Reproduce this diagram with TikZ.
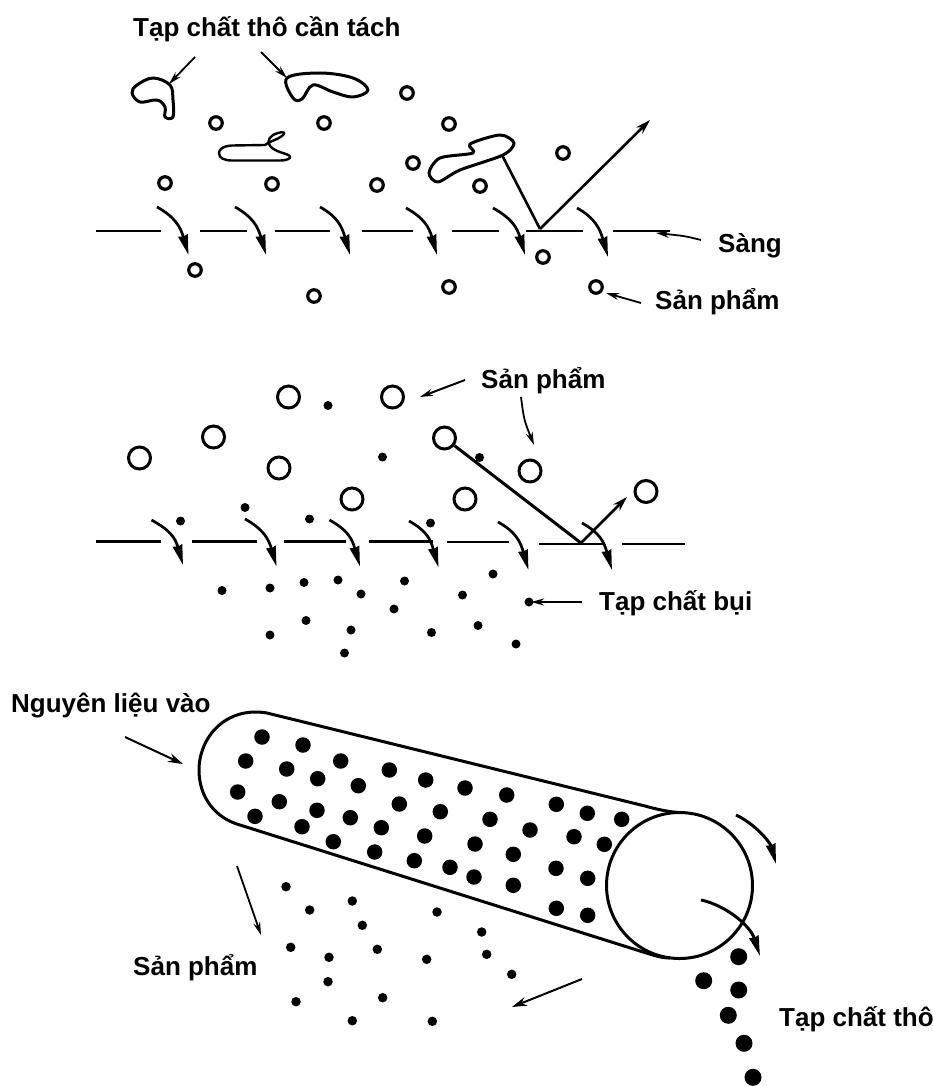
\documentclass[tikz,border=0pt]{standalone}
\usepackage{fontspec}
\setmainfont{Liberation Sans}
\usetikzlibrary{arrows.meta}
\tikzset{
  lbl/.style={anchor=base west,inner sep=0pt,font=\bfseries\fontsize{26}{28}\selectfont},
  ringsmall/.style={circle,draw=black,line width=3.2pt,fill=white,minimum size=12.5pt,inner sep=0pt},
  ringbig/.style={circle,draw=black,line width=3pt,fill=white,minimum size=22pt,inner sep=0pt},
  specksmall/.style={circle,fill=black,minimum size=9pt,inner sep=0pt},
  speckmid/.style={circle,fill=black,minimum size=15.5pt,inner sep=0pt},
  speckbig/.style={circle,fill=black,minimum size=17pt,inner sep=0pt},
  specklow/.style={circle,fill=black,minimum size=9.5pt,inner sep=0pt},
  sieve/.style={line width=2.7pt},
  blob/.style={line width=3pt,line join=round},
  hit/.style={line width=2.6pt},
  thin arrow/.style={line width=1.8pt,-{Stealth[length=13pt,width=7pt]}},
  bold arrow/.style={line width=2.6pt,-{Stealth[length=15pt,width=9pt]}},
  sieve arrow/.style={line width=2.7pt,-{Stealth[length=20pt,width=9.5pt,inset=1pt]}},
  belt/.style={line width=3pt,line join=round},
}
\begin{document}
\begin{tikzpicture}[x=1pt,y=-1pt]
\useasboundingbox (0,0) rectangle (933,1086);
\fill[white] (0,0) rectangle (933,1086);

% ---------- panel 1
\node[lbl] (t1) at (133,37) {Tạp chất thô cần tách};
\node[lbl] (t2) at (718,252) {Sàng};
\node[lbl] (t3) at (655,309) {Sản phẩm};

\foreach \i/\x/\y in {1/407/93,2/216/123,3/324/123,4/449/124,5/563/153,6/413/163,7/165/183,8/272/184,9/377/185,10/480/186,11/195/270,12/314/296,13/449/287,14/543/257,15/596/287}
  \node[ringsmall] (a\i) at (\x,\y) {};

\draw[blob] plot[smooth cycle,tension=.6] coordinates {(170,85)(153,78)(137,85)(132,93)(140,102)(157,100)(165,107)(165,117)(173,117)(173,100)};
\draw[blob] plot[smooth cycle,tension=.6] coordinates {(287,78)(293,98)(302,99)(313,85)(333,92)(353,97)(368,90)(353,78)(320,73)};
\draw[blob,line width=2.4pt] (265,145) -- (232,145.5) .. controls (222,146) and (219,150) .. (219,153) .. controls (219,158) and (224,160.5) .. (232,160.5) -- (280,160.5) .. controls (288,160.5) and (291,158) .. (290,156.5) .. controls (288,153) and (276,153) .. (270,146) .. controls (266,141) and (270,135) .. (278,133) .. controls (285,131) and (286,133) .. (282,136) .. controls (277,140) and (270,141) .. (265,145);
\draw[blob] plot[smooth cycle,tension=.5] coordinates {(503,155)(514,143)(500,135)(470,144)(473,153)(440,158)(429,173)(438,182)(460,170)};

\foreach \xa/\xb in {96/161,200/247,275/330,362/413,452/499,526/583,613/670}
  \draw[sieve] (\xa,231) -- (\xb,231);

\foreach \xa/\xb/\ya/\yb in {157/188.5/207/255,235/266/207/255,320/350/207/255,406/437/208/255,493/525/208/255,577/608/208/257}
  \draw[sieve arrow] (\xa,\ya) .. controls (\xa+18,\ya+10) and (\xb-8,\yb-28) .. (\xb,\yb);

\coordinate (p1) at (502,155);
\coordinate (p2) at (540,229);
\coordinate (p3) at (650,120);
\draw[hit] (p1) -- (p2);
\draw[bold arrow] (p2) -- (p3);

\coordinate (e1) at (195,57); \coordinate (f1) at (169,84);
\coordinate (e2) at (261,52); \coordinate (f2) at (287,78);
\coordinate (e3) at (701,240); \coordinate (f3) at (656,233);
\coordinate (e4) at (641,303); \coordinate (f4) at (606,293);
\draw[thin arrow] (e1) -- (f1);
\draw[thin arrow] (e2) -- (f2);
\draw[thin arrow] (e3) .. controls (685,236) .. (f3);
\draw[thin arrow] (e4) -- (f4);

% ---------- panel 2
\node[lbl] (t4) at (481,388) {Sản phẩm};
\node[lbl] (t5) at (599,610) {Tạp chất bụi};

\foreach \i/\x/\y in {1/288.5/397,2/392.5/397,3/213.5/437,4/139.5/458,5/444.5/438,6/279/468,7/530/471,8/352/499,9/465/499,10/646/491.5}
  \node[ringbig] (b\i) at (\x,\y) {};

\foreach \i/\x/\y in {1/328/405.5,2/382.5/457,3/479.5/457.5,4/245/507.5,5/180.5/521,6/309.5/519,7/430.5/523,8/222/590.5,9/270/588,10/304/582.5,11/338/580,12/361/594,13/404.5/581,14/493/574,15/462.5/595,16/394/609,17/306/620.5,18/351/630,19/270/635,20/431.5/632.5,21/478/625.5,22/516/644,23/344.5/653,24/529/602}
  \node[specksmall] (c\i) at (\x,\y) {};

\foreach \xa/\xb/\yy in {96/161/541.5,192/257/541.5,284/346/541.5,369/433/541.5,447/509/542,539/604/544,622/685/544}
  \draw[sieve] (\xa,\yy) -- (\xb,\yy);

\foreach \xa/\xb/\ya/\yb in {151.5/183/520/565,245/276.5/519/566.5,329.5/360/520/566.5,409/438.5/521/567.5,498/528.5/522/570,582/612/523/570}
  \draw[sieve arrow] (\xa,\ya) .. controls (\xa+18,\ya+10) and (\xb-8,\yb-28) .. (\xb,\yb);

\coordinate (q2) at (581,543);
\coordinate (q3) at (627,497);
\draw[hit,line width=3pt] (b5) -- (q2);
\draw[bold arrow] (q2) -- (q3);
\coordinate (g1) at (465,380); \coordinate (h1) at (420,397);
\coordinate (g2) at (521,397); \coordinate (h2) at (534,445);
\coordinate (g3) at (582,602); \coordinate (h3) at (531,602);
\draw[thin arrow,line width=2pt] (g1) -- (h1);
\draw[thin arrow] (g2) .. controls (524,420) .. (h2);
\draw[thin arrow,line width=2pt] (g3) -- (h3);

% ---------- panel 3
\node[lbl] (t6) at (11,712) {Nguyên liệu vào};
\node[lbl] (t7) at (133,975) {Sản phẩm};
\node[lbl] (t8) at (779,1026) {Tạp chất thô};

\foreach \i/\x/\y in {1/262/737,2/303/745,3/245.7/761,4/286.7/769,5/317.7/778.7,6/340.7/761,7/389.3/770,8/425.7/780,9/465/788,10/358.3/785.7,11/399.3/804,12/440.3/811.7,13/237.7/792,14/279.3/801.7,15/317/810.3,16/350.3/817.7,17/381.3/827.7,18/424.7/836,19/255/816.3,20/302/826.7,21/333.3/841.7,22/374.7/852,23/414.3/860.7,24/450/867.3,25/475/844,26/474/877,27/506.7/795,28/556.3/804.3,29/587.3/813.3,30/621.7/819.3,31/490/819.3,32/530/830,33/574/836.7,34/604.3/844.3,35/513.3/854.3,36/556/868.3,37/587.7/878.3,38/513.3/885.3,39/556.3/908.3,40/587.7/915.3}
  \node[speckmid] (d\i) at (\x,\y) {};

\foreach \i/\x/\y in {1/738.7/956.7,2/703.7/980.7,3/738.7/990,4/728.3/1015.3,5/744/1043.3,6/753/1077.3}
  \node[speckbig] (k\i) at (\x,\y) {};

\foreach \i/\x/\y in {1/286/886.7,2/309.7/910,3/352.3/901,4/362.3/925.3,5/437/912,6/290.7/947.3,7/329/957.3,8/377.3/949.3,9/426.7/959.3,10/328/981.7,11/382.7/997.7,12/296/1001.7,13/352.3/1020.7,14/432.3/1021.3,15/481.7/932,16/486.7/954.3,17/511.7/974.3}
  \node[specklow] (m\i) at (\x,\y) {};

\node[circle,draw=black,line width=3pt,minimum size=146pt,inner sep=0pt] (roller) at (679.5,885.5) {};
\coordinate (u1) at (267,713); \coordinate (u2) at (679.5,812.5);
\coordinate (l1) at (240,825); \coordinate (l2) at (670,958);
\draw[belt] (u2) .. controls (672,812) and (663,811) .. (645,806) -- (u1) .. controls (225,706) and (199,738) .. (199,770) .. controls (199,797) and (215,818) .. (l1) -- (640,951) .. controls (650,954) and (660,958) .. (l2);

\coordinate (r1) at (125,737); \coordinate (r2) at (183,764);
\coordinate (r3) at (237,866); \coordinate (r4) at (261,935);
\coordinate (r5) at (582,979); \coordinate (r6) at (512,1007);
\draw[bold arrow,line width=2pt] (r1) -- (r2);
\draw[thin arrow] (r3) -- (r4);
\draw[bold arrow,line width=2pt] (r5) -- (r6);

\coordinate (s1) at (736,815); \coordinate (s2) at (776,864);
\coordinate (s3) at (701,900); \coordinate (s4) at (760,956);
\draw[sieve arrow,line width=3pt] (s1) .. controls (755,824) and (770,842) .. (s2);
\draw[sieve arrow,line width=3pt] (s3) .. controls (725,905) and (750,925) .. (s4);
\end{tikzpicture}
\end{document}
